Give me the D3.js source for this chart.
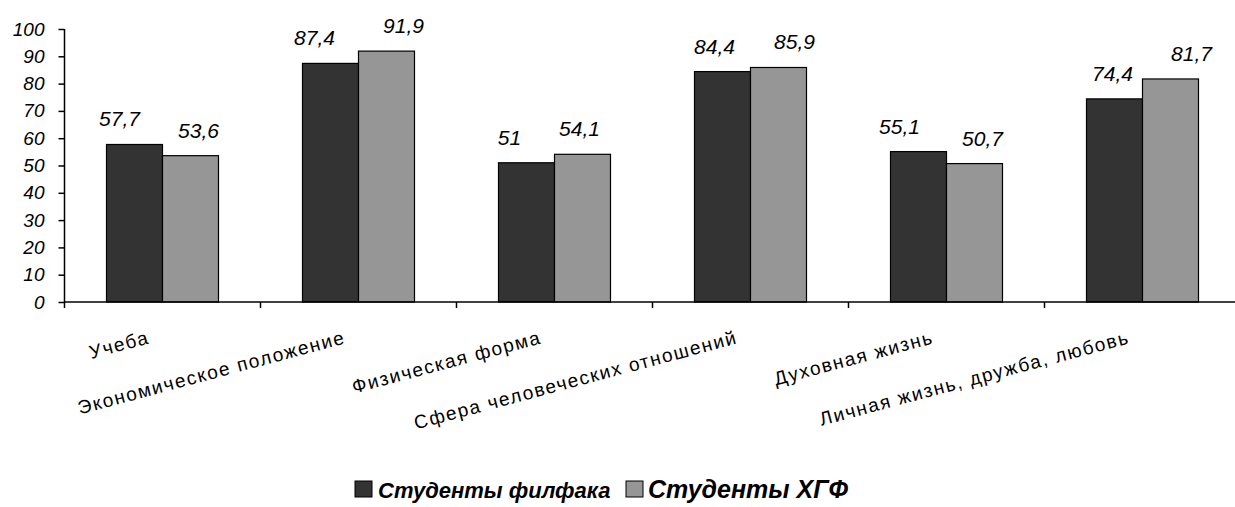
<!DOCTYPE html>
<html>
<head>
<meta charset="utf-8">
<script src="https://cdn.jsdelivr.net/npm/d3@7"></script>
<style>
  html, body { margin: 0; padding: 0; background: #ffffff; }
  svg { display: block; font-family: "Liberation Sans", Arial, sans-serif; }
</style>
</head>
<body>
<svg id="chart" width="1235" height="507"></svg>
<script>
// Sphere-of-life categories and the share (%) of each student group
const categories = [
  "Учеба",
  "Экономическое положение",
  "Физическая форма",
  "Сфера человеческих отношений",
  "Духовная жизнь",
  "Личная жизнь, дружба, любовь"
];
const seriesNames = ["Студенты филфака", "Студенты ХГФ"];
const filfakValues = [57.7, 87.4, 51, 84.4, 55.1, 74.4];
const hgfValues = [53.6, 91.9, 54.1, 85.9, 50.7, 81.7];
const yTicks = [0, 10, 20, 30, 40, 50, 60, 70, 80, 90, 100];

// Layout
const axisX = 64.5, axisY = 302, topY = 29, catStep = 196;
const colors = ["#333333", "#969696"];
// Horizontal nudges of the hand-placed value labels [filfak, hgf]
const labelNudge = [[-15, 8], [-16, 17], [-17, -3], [-8, 16], [-19, 8], [-2, 21]];

const svg = d3.select("#chart");

const y = d3.scaleLinear().domain([0, 100]).range([axisY, topY]);
const x = d3.scaleBand()
  .domain(categories)
  .range([axisX, axisX + catStep * categories.length])
  .paddingInner(0).paddingOuter(0);
const xs = d3.scaleBand()
  .domain([0, 1])
  .range([0, x.bandwidth()])
  .paddingInner(0).paddingOuter(0.75);

const fmt = v => String(v).replace(".", ",");

const rows = categories.map((c, i) => ({
  cat: c, i,
  vals: [filfakValues[i], hgfValues[i]]
}));

// Bars
const groups = svg.append("g").selectAll("g")
  .data(rows).join("g")
  .attr("transform", d => `translate(${x(d.cat)},0)`);

groups.selectAll("rect")
  .data(d => d.vals.map((v, s) => ({ v, s, i: d.i })))
  .join("rect")
  .attr("x", d => xs(d.s))
  .attr("y", d => y(d.v))
  .attr("width", xs.bandwidth())
  .attr("height", d => y(0) - y(d.v))
  .attr("fill", d => colors[d.s])
  .attr("stroke", "#000")
  .attr("stroke-width", 1.2);

// Value labels
groups.selectAll("text.val")
  .data(d => d.vals.map((v, s) => ({ v, s, i: d.i })))
  .join("text")
  .attr("class", "val")
  .attr("x", d => xs(d.s) + xs.bandwidth() / 2 + labelNudge[d.i][d.s])
  .attr("y", d => y(d.v) - 18)
  .attr("text-anchor", "middle")
  .attr("font-size", 21)
  .attr("font-style", "italic")
  .attr("fill", "#000")
  .text(d => fmt(d.v));

// Y axis
const yAxis = d3.axisLeft(y).tickValues(yTicks).tickSize(6).tickPadding(14)
  .tickFormat(d3.format("d"));
const gy = svg.append("g").attr("transform", `translate(${axisX},0)`).call(yAxis);
gy.select(".domain").attr("d", `M0,${topY}V${axisY}`).attr("stroke", "#000").attr("stroke-width", 1.5);
gy.selectAll(".tick line").attr("stroke", "#000").attr("stroke-width", 1.5);
gy.selectAll(".tick text")
  .attr("font-size", 19)
  .attr("font-style", "italic")
  .attr("fill", "#000")
  .attr("font-family", "Liberation Sans, Arial, sans-serif");

// X axis line and category boundary ticks
const gx = svg.append("g");
gx.append("line")
  .attr("x1", axisX).attr("x2", 1235)
  .attr("y1", axisY).attr("y2", axisY)
  .attr("stroke", "#000").attr("stroke-width", 1.5);
gx.selectAll("line.tk")
  .data(categories.map(c => x(c)).concat([x.range()[1]]))
  .join("line")
  .attr("class", "tk")
  .attr("x1", d => d).attr("x2", d => d)
  .attr("y1", axisY).attr("y2", axisY + 6)
  .attr("stroke", "#000").attr("stroke-width", 1.5);

// Category labels, rotated
gx.selectAll("text.cat")
  .data(categories)
  .join("text")
  .attr("class", "cat")
  .attr("transform", d => `translate(${x(d) + x.bandwidth() / 2 - 12},${axisY + 41}) rotate(-15)`)
  .attr("text-anchor", "end")
  .attr("font-size", 19)
  .attr("letter-spacing", "1.6px")
  .attr("fill", "#000")
  .text(d => d);

// Legend
const legend = svg.append("g");
const legendItems = [
  { name: seriesNames[0], color: colors[0], size: 22, sx: 355, tx: 378 },
  { name: seriesNames[1], color: colors[1], size: 25, sx: 626, tx: 648 }
];
legend.selectAll("rect")
  .data(legendItems).join("rect")
  .attr("x", d => d.sx).attr("y", 481)
  .attr("width", 17).attr("height", 16)
  .attr("fill", d => d.color)
  .attr("stroke", "#000").attr("stroke-width", 1);
legend.selectAll("text")
  .data(legendItems).join("text")
  .attr("x", d => d.tx).attr("y", 498)
  .attr("font-size", d => d.size)
  .attr("font-weight", "bold")
  .attr("font-style", "italic")
  .attr("fill", "#000")
  .text(d => d.name);
</script>
</body>
</html>
